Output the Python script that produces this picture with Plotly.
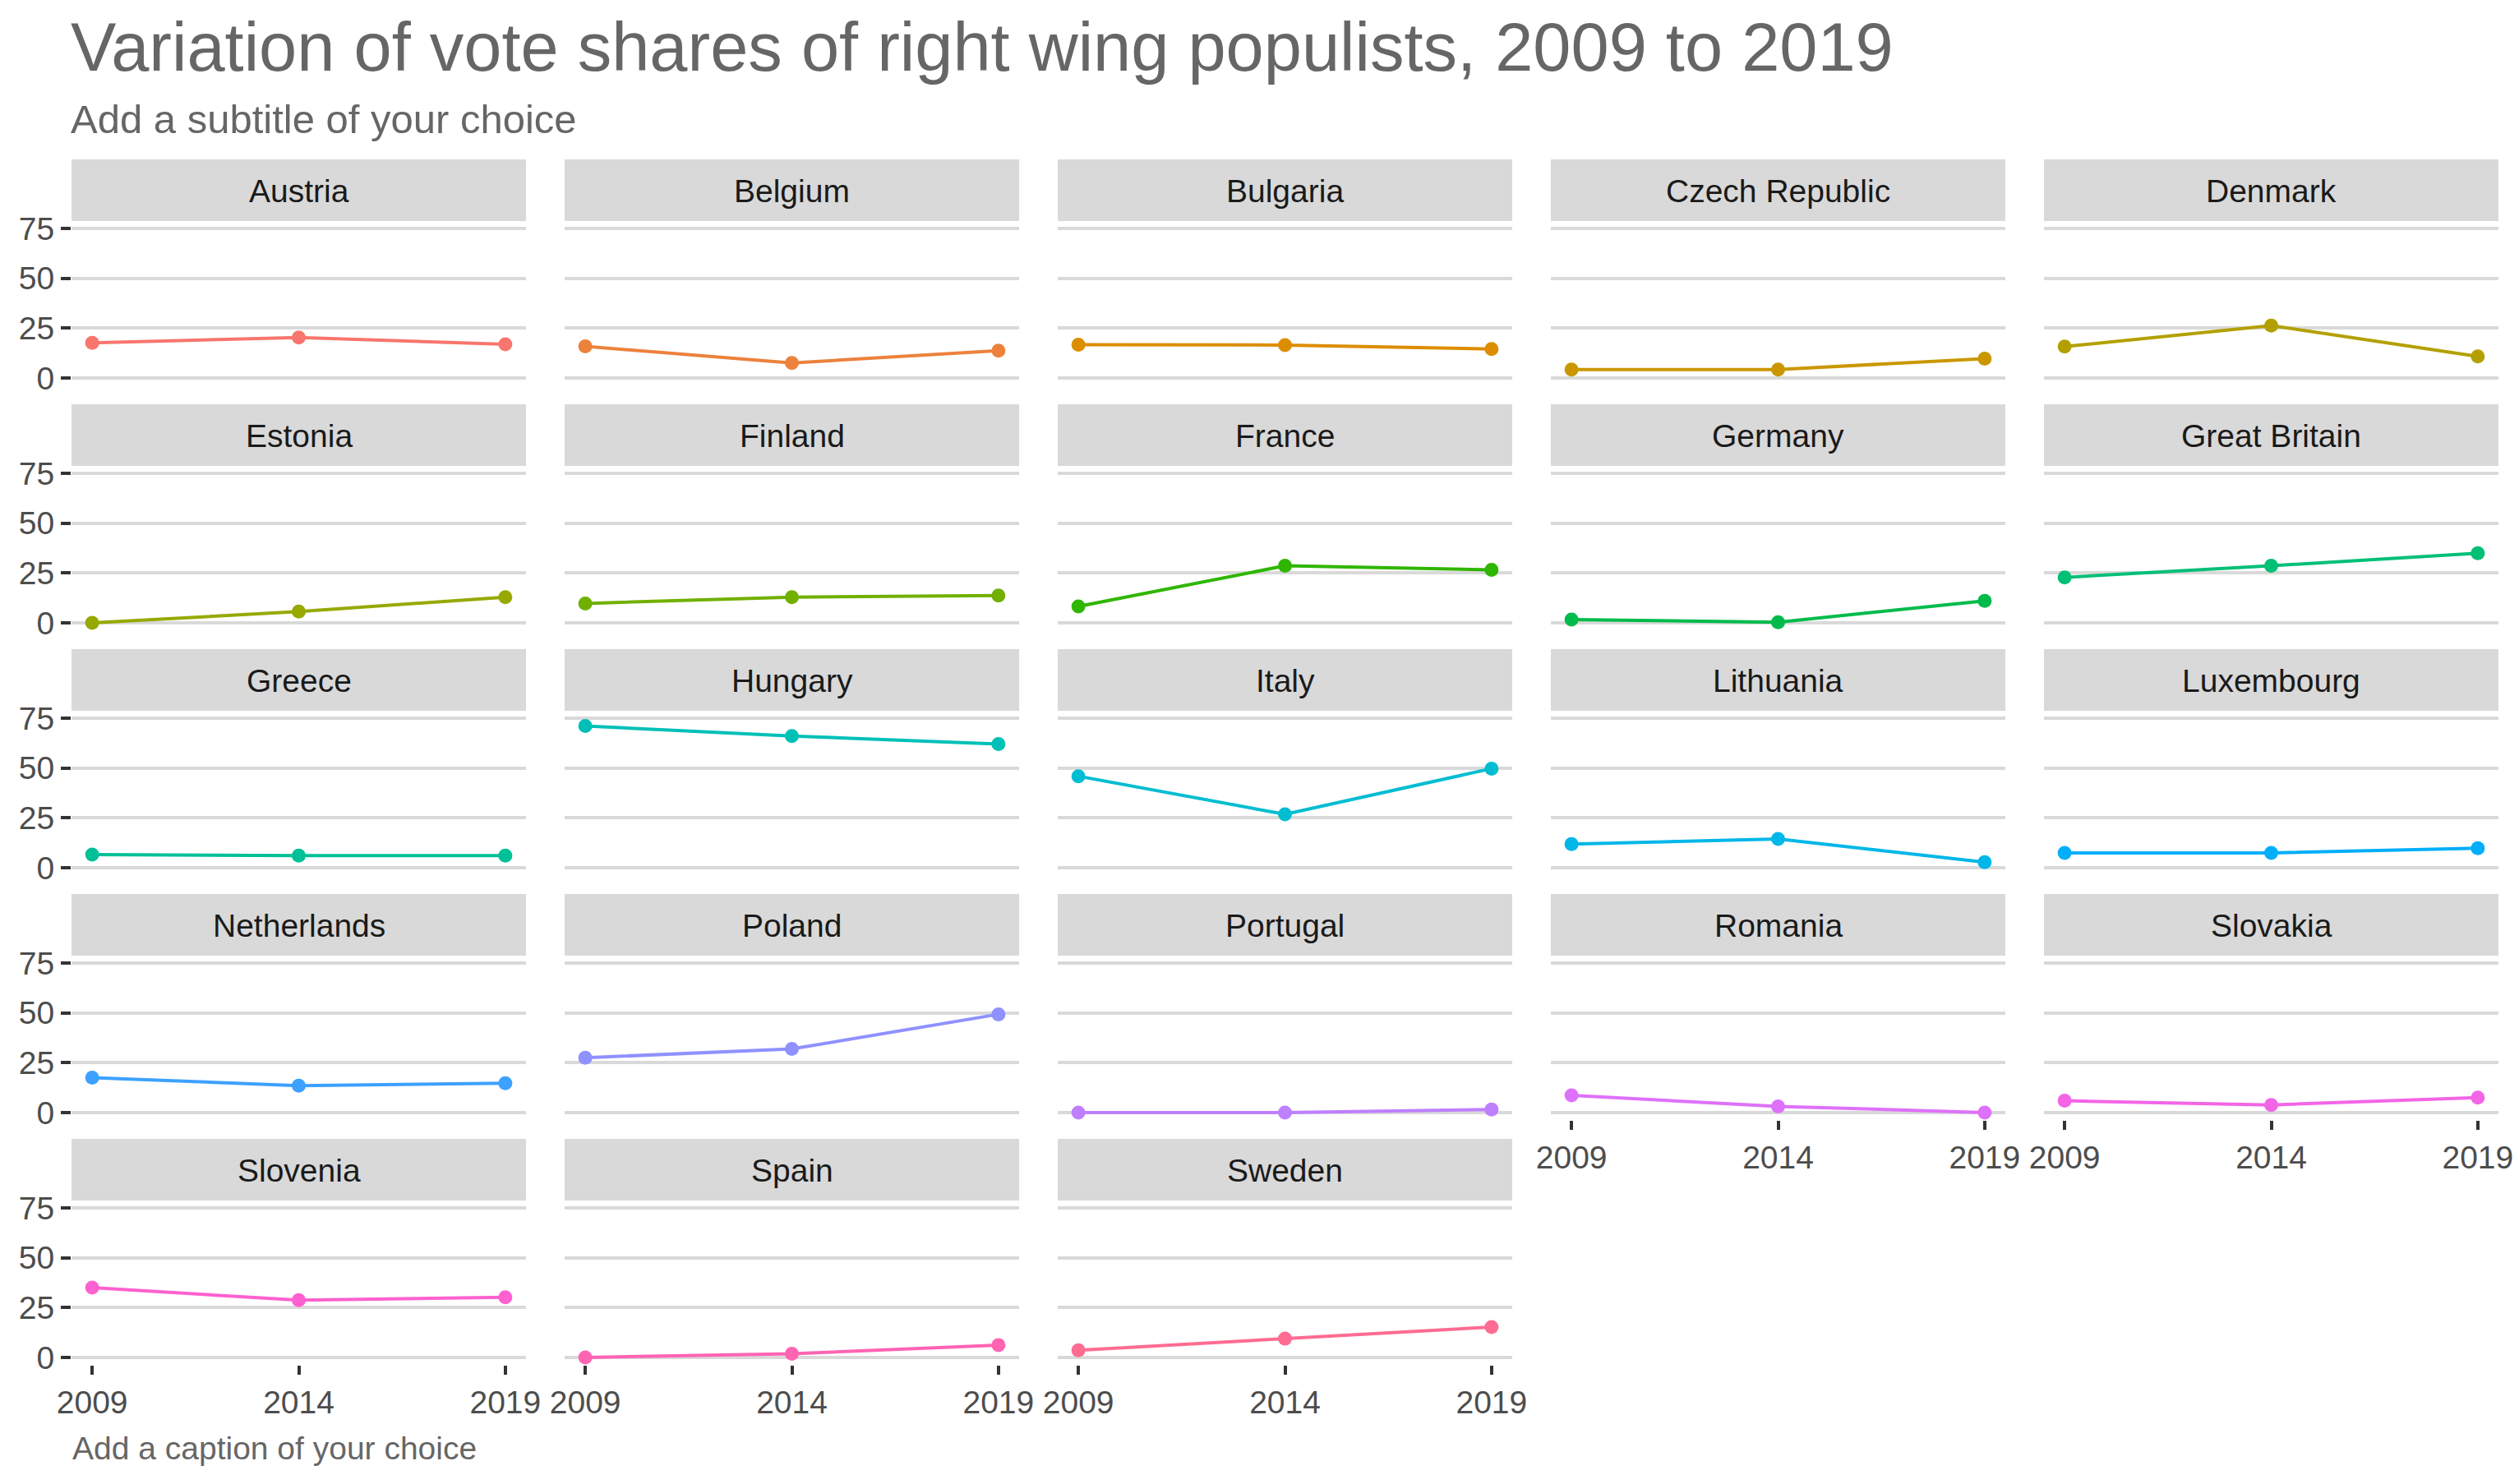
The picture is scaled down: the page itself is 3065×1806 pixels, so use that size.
import math
import plotly.graph_objects as go

# ---------------- data ----------------
countries = ["Austria", "Belgium", "Bulgaria", "Czech Republic", "Denmark",
             "Estonia", "Finland", "France", "Germany", "Great Britain",
             "Greece", "Hungary", "Italy", "Lithuania", "Luxembourg",
             "Netherlands", "Poland", "Portugal", "Romania", "Slovakia",
             "Slovenia", "Spain", "Sweden"]
years = [2009, 2014, 2019]
v2009 = [17.6, 15.8, 16.7, 4.2, 15.7, 0.0, 9.7, 8.2, 1.6, 22.8,
         6.6, 71.1, 45.9, 11.8, 7.4, 17.5, 27.5, 0.0, 8.6, 5.9,
         35.0, 0.0, 3.6]
v2014 = [20.3, 7.5, 16.5, 4.2, 26.3, 5.6, 12.9, 28.6, 0.3, 28.6,
         6.0, 66.1, 26.8, 14.4, 7.4, 13.5, 31.9, 0.0, 3.1, 3.8,
         28.7, 1.8, 9.4]
v2019 = [16.9, 13.7, 14.5, 9.7, 10.8, 12.9, 13.7, 26.6, 11.0, 34.9,
         6.0, 62.0, 49.7, 2.7, 9.8, 14.7, 49.3, 1.5, 0.0, 7.5,
         30.2, 6.2, 15.2]
y_ticks = [0, 25, 50, 75]
x_ticks = [2009, 2014, 2019]

title = "Variation of vote shares of right wing populists, 2009 to 2019"
subtitle = "Add a subtitle of your choice"
caption = "Add a caption of your choice"


# ---------------- ggplot hue palette ----------------
def hcl_hex(h, c=100.0, l=65.0):
    Xn, Yn, Zn = 95.047, 100.0, 108.883
    hr = math.radians(h)
    U = c * math.cos(hr)
    V = c * math.sin(hr)
    Y = Yn * ((l + 16) / 116) ** 3 if l > 7.999592 else Yn * l / 903.3
    t = Xn + Yn + Zn
    x = Xn / t
    y = Yn / t
    uN = 2 * x / (6 * y - x + 1.5)
    vN = 4.5 * y / (6 * y - x + 1.5)
    u = U / (13 * l) + uN
    v = V / (13 * l) + vN
    X = 9.0 * Y * u / (4 * v)
    Z = -X / 3 - 5 * Y + 3 * Y / v

    def g(val):
        val = val / Yn
        if val > 0.00304:
            r = 1.055 * val ** (1 / 2.4) - 0.055
        else:
            r = 12.92 * val
        return int(round(255 * min(1, max(0, r))))

    R = g(3.240479 * X - 1.537150 * Y - 0.498535 * Z)
    G = g(-0.969256 * X + 1.875992 * Y + 0.041556 * Z)
    B = g(0.055648 * X - 0.204043 * Y + 1.057311 * Z)
    return "#%02X%02X%02X" % (R, G, B)


n = len(countries)
step = (360 - 360 / n) / (n - 1)
colors = [hcl_hex((15 + i * step) % 360) for i in range(n)]

# ---------------- layout geometry (pixels) ----------------
W, H = 3065, 1806
ncol = 5
px_left0, px_width, px_pitch_x = 87, 553, 600
strip_top0, strip_h, panel_h, pitch_y = 194, 75, 200, 298

FONT = "Liberation Sans, Arial, sans-serif"


def fx(px):
    return px / W


def fy(py):
    return 1 - py / H


fig = go.Figure()
layout = dict(
    width=W, height=H,
    margin=dict(l=0, r=0, t=0, b=0, pad=0, autoexpand=False),
    paper_bgcolor="white", plot_bgcolor="white",
    showlegend=False,
    font=dict(family=FONT),
)
shapes = []
annotations = []

last_row_idx = {}
for i in range(n):
    last_row_idx[i % ncol] = i

for i, name in enumerate(countries):
    r, c = divmod(i, ncol)
    k = "" if i == 0 else str(i + 1)
    x0 = px_left0 + c * px_pitch_x
    x1 = x0 + px_width
    st = strip_top0 + r * pitch_y
    pt = st + strip_h
    pb = pt + panel_h

    fig.add_trace(go.Scatter(
        x=years, y=[v2009[i], v2014[i], v2019[i]],
        mode="lines+markers",
        line=dict(color=colors[i], width=4),
        marker=dict(color=colors[i], size=17),
        xaxis="x" + k, yaxis="y" + k, name=name,
    ))

    show_x = last_row_idx[c] == i
    show_y = c == 0
    layout["xaxis" + k] = dict(
        domain=[fx(x0), fx(x1)], anchor="y" + k,
        range=[2008.5, 2019.5], automargin=False,
        tickvals=x_ticks, ticktext=[str(t) for t in x_ticks],
        showgrid=False, zeroline=False, showline=False,
        showticklabels=show_x,
        ticks="outside" if show_x else "",
        ticklen=11, tickwidth=4, tickcolor="#333333",
        tickfont=dict(size=39, color="#4D4D4D", family=FONT),
        fixedrange=True,
    )
    layout["yaxis" + k] = dict(
        domain=[fy(pb), fy(pt)], anchor="x" + k,
        range=[-3.75, 78.75], automargin=False,
        tickvals=y_ticks, ticktext=[str(t) for t in y_ticks],
        showgrid=True, gridcolor="#D9D9D9", gridwidth=4,
        zeroline=False, showline=False,
        showticklabels=show_y,
        ticks="outside" if show_y else "",
        ticklen=12, tickwidth=4, tickcolor="#333333",
        tickfont=dict(size=39, color="#4D4D4D", family=FONT),
        fixedrange=True,
    )

    shapes.append(dict(
        type="rect", xref="paper", yref="paper",
        x0=fx(x0), x1=fx(x1), y0=fy(pt), y1=fy(st),
        fillcolor="#D9D9D9", line=dict(width=0), layer="below",
    ))
    annotations.append(dict(
        text=name, xref="paper", yref="paper",
        x=fx((x0 + x1) / 2), y=fy((st + pt) / 2 + 1),
        xanchor="center", yanchor="middle", showarrow=False,
        font=dict(size=39, color="#1A1A1A", family=FONT),
    ))

annotations.append(dict(
    text=title, xref="paper", yref="paper", x=fx(84), y=fy(57),
    xanchor="left", yanchor="middle", showarrow=False,
    font=dict(size=83, color="#666666", family=FONT),
))
annotations.append(dict(
    text=subtitle, xref="paper", yref="paper", x=fx(84), y=fy(145),
    xanchor="left", yanchor="middle", showarrow=False,
    font=dict(size=49, color="#666666", family=FONT),
))
annotations.append(dict(
    text=caption, xref="paper", yref="paper", x=fx(86), y=fy(1762),
    xanchor="left", yanchor="middle", showarrow=False,
    font=dict(size=39, color="#666666", family=FONT),
))

layout["shapes"] = shapes
layout["annotations"] = annotations
fig.update_layout(**layout)
fig.write_html("out.html")
